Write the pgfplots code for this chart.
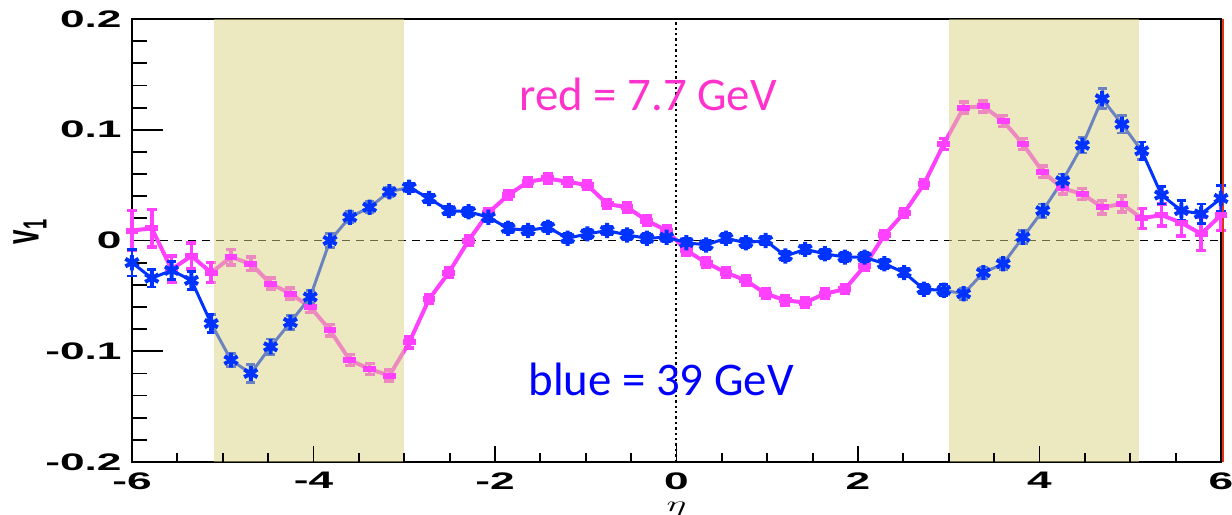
\documentclass[border=0pt]{standalone}
\usepackage{pgfplots}
\usepackage{pgfplotstable}
\pgfplotsset{compat=1.18}
\usepackage{graphicx}
\usepackage{fontspec}
\newfontfamily\helv{Liberation Sans}
\newfontfamily\calib{Carlito}
\definecolor{vblue}{RGB}{0,51,255}
\definecolor{vpink}{RGB}{255,64,255}
\definecolor{tpink}{RGB}{255,51,204}
\definecolor{tblue}{RGB}{0,0,255}
\definecolor{bandc}{RGB}{218,212,130}
\definecolor{redline}{RGB}{230,50,20}

\pgfplotstableread{
x y e
-6.000 -0.020 0.012
-5.782 -0.034 0.008
-5.564 -0.027 0.008
-5.345 -0.036 0.008
-5.127 -0.075 0.008
-4.909 -0.108 0.006
-4.691 -0.120 0.008
-4.473 -0.096 0.007
-4.255 -0.074 0.006
-4.036 -0.051 0.006
-3.818 0.000 0.006
-3.600 0.021 0.005
-3.382 0.030 0.005
-3.164 0.044 0.004
-2.945 0.048 0.004
-2.727 0.038 0.004
-2.509 0.027 0.004
-2.291 0.026 0.004
-2.073 0.021 0.004
-1.855 0.011 0.004
-1.636 0.009 0.004
-1.418 0.012 0.004
-1.200 0.002 0.004
-0.982 0.006 0.004
-0.764 0.009 0.004
-0.545 0.005 0.004
-0.327 0.002 0.004
-0.109 0.003 0.004
0.109 -0.002 0.004
0.327 -0.004 0.004
0.545 0.002 0.004
0.764 -0.002 0.004
0.982 0.000 0.004
1.200 -0.014 0.004
1.418 -0.008 0.004
1.636 -0.012 0.004
1.855 -0.015 0.004
2.073 -0.015 0.004
2.291 -0.021 0.004
2.509 -0.029 0.004
2.727 -0.044 0.004
2.945 -0.045 0.005
3.164 -0.048 0.005
3.382 -0.029 0.005
3.600 -0.021 0.005
3.818 0.003 0.006
4.036 0.027 0.006
4.255 0.054 0.006
4.473 0.086 0.007
4.691 0.128 0.009
4.909 0.105 0.008
5.127 0.081 0.008
5.345 0.041 0.008
5.564 0.027 0.009
5.782 0.024 0.009
6.000 0.038 0.012
}\bluedata

\pgfplotstableread{
x y e
-6.000 0.009 0.018
-5.782 0.011 0.017
-5.564 -0.026 0.012
-5.345 -0.014 0.012
-5.127 -0.029 0.009
-4.909 -0.015 0.007
-4.691 -0.021 0.006
-4.473 -0.039 0.005
-4.255 -0.048 0.005
-4.036 -0.060 0.005
-3.818 -0.081 0.005
-3.600 -0.108 0.005
-3.382 -0.116 0.005
-3.164 -0.122 0.005
-2.945 -0.092 0.005
-2.727 -0.053 0.004
-2.509 -0.029 0.004
-2.291 0.000 0.004
-2.073 0.025 0.004
-1.855 0.041 0.004
-1.636 0.053 0.004
-1.418 0.056 0.004
-1.200 0.053 0.004
-0.982 0.050 0.004
-0.764 0.033 0.004
-0.545 0.030 0.004
-0.327 0.018 0.004
-0.109 0.009 0.004
0.109 -0.009 0.004
0.327 -0.020 0.004
0.545 -0.029 0.004
0.764 -0.036 0.004
0.982 -0.048 0.004
1.200 -0.054 0.004
1.418 -0.056 0.004
1.636 -0.048 0.004
1.855 -0.044 0.004
2.073 -0.023 0.004
2.291 0.005 0.004
2.509 0.025 0.004
2.727 0.051 0.004
2.945 0.087 0.005
3.164 0.120 0.005
3.382 0.121 0.005
3.600 0.108 0.005
3.818 0.087 0.005
4.036 0.062 0.005
4.255 0.047 0.005
4.473 0.042 0.005
4.691 0.030 0.006
4.909 0.033 0.007
5.127 0.020 0.009
5.345 0.023 0.010
5.564 0.016 0.012
5.782 0.006 0.015
6.000 0.023 0.014
}\reddata

\begin{document}
\begin{tikzpicture}
\begin{axis}[name=main,
  scale only axis, width=544.5bp, height=221.5bp,
  xmin=-6, xmax=6, ymin=-0.2, ymax=0.2,
  clip=false,
  axis line style={line width=0.9bp},
  ytick={-0.2,-0.1,0,0.1,0.2},
  yticklabels={\scalebox{1.85}[1]{-0.2},\scalebox{1.85}[1]{-0.1},\scalebox{1.85}[1]{0},\scalebox{1.85}[1]{0.1},\scalebox{1.85}[1]{0.2}},
  minor y tick num=4,
  ytick pos=left, tick align=inside,
  major tick length=15.5bp, minor tick length=7.5bp,
  tick style={black, line width=0.9bp},
  yticklabel style={font=\helv\bfseries\fontsize{12}{12}\selectfont, anchor=east, inner sep=0pt, xshift=-5bp},
  xtick=\empty,
  ylabel={\scalebox{1}[1.85]{\helv\bfseries\fontsize{13}{13}\selectfont v\textsubscript{1}}},
  ylabel style={at={(axis description cs:-0.0937,0.52)}, anchor=center},
]
\addplot[black, line width=0.7bp, dash pattern=on 4bp off 3bp, forget plot] coordinates {(-6,0) (6,0)};
\addplot[black, line width=1bp, dash pattern=on 1.2bp off 1.5bp, forget plot] coordinates {(0,-0.2) (0,0.2)};

\addplot[vpink, line width=2bp, mark=-, mark size=3.2bp, mark options={line width=3bp, solid},
  error bars/.cd, y dir=both, y explicit,
  error bar style={line width=1.8bp},
  error mark options={rotate=90, mark size=2.5bp, line width=1.8bp}]
  table[x=x, y=y, y error=e] {\reddata};

\addplot[vblue, line width=1.5bp, mark=asterisk, mark size=3.8bp, mark options={line width=2bp, solid},
  error bars/.cd, y dir=both, y explicit,
  error bar style={line width=1.4bp},
  error mark options={rotate=90, mark size=2.3bp, line width=1.4bp}]
  table[x=x, y=y, y error=e] {\bluedata};

\addplot[draw=none, fill=bandc, fill opacity=0.5, forget plot] coordinates {(-5.1,-0.2) (-3.0,-0.2) (-3.0,0.2) (-5.1,0.2)} -- cycle;
\addplot[draw=none, fill=bandc, fill opacity=0.5, forget plot] coordinates {(3.0,-0.2) (5.1,-0.2) (5.1,0.2) (3.0,0.2)} -- cycle;

\addplot[redline, line width=1.3bp, forget plot, xshift=1.1bp] coordinates {(6,-0.2) (6,0.2)};

\node[anchor=base west, inner sep=0pt, text=tpink, font=\calib\fontsize{23.5}{24}\selectfont] at (axis cs:-1.735,0.117) {red = 7.7 GeV};
\node[anchor=base west, inner sep=0pt, text=tblue, font=\calib\fontsize{23.5}{24}\selectfont] at (axis cs:-1.636,-0.140) {blue = 39 GeV};
\end{axis}

\begin{axis}[
  scale only axis, width=544.5bp, height=221.5bp,
  xmin=-6, xmax=6, ymin=-0.2, ymax=0.2,
  axis line style={draw=none},
  ytick=\empty,
  xtick={-6,-4,-2,0,2,4,6},
  xticklabels={\scalebox{1.85}[1]{-6},\scalebox{1.85}[1]{-4},\scalebox{1.85}[1]{-2},\scalebox{1.85}[1]{0},\scalebox{1.85}[1]{2},\scalebox{1.85}[1]{4},\scalebox{1.85}[1]{6}},
  minor x tick num=3,
  xtick pos=bottom, tick align=inside,
  major tick length=8bp, minor tick length=4.5bp,
  tick style={black, line width=0.9bp},
  xticklabel style={font=\helv\bfseries\fontsize{12}{12}\selectfont, anchor=north, inner sep=0pt, yshift=-5bp},
  xlabel={\scalebox{1.7}[1]{\fontsize{11}{11}\selectfont$\eta$}},
  xlabel style={at={(axis description cs:0.5,-0.09)}, anchor=north, inner sep=0pt},
]
\end{axis}

\pgfresetboundingbox
\path[use as bounding box] (main.south west) ++(-66bp,-26.5bp) rectangle ++(616bp,257.5bp);
\end{tikzpicture}
\end{document}
